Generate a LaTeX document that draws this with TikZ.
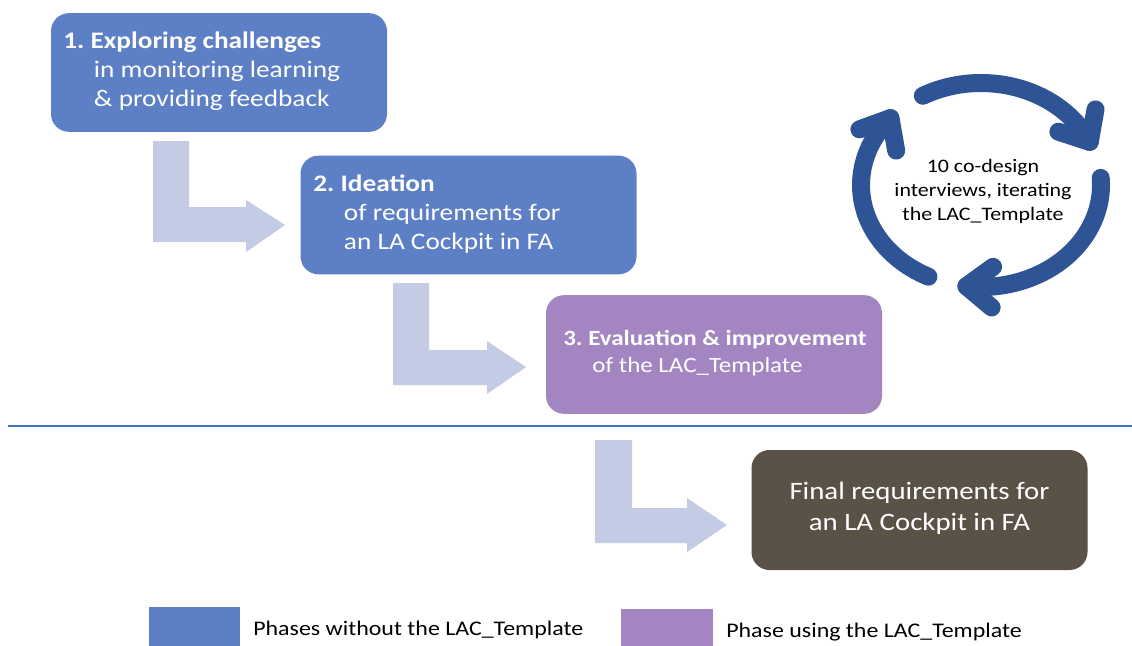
\documentclass[tikz,border=0pt]{standalone}
\usepackage{fontspec}
\setmainfont{Carlito}
\usetikzlibrary{calc}
\definecolor{phaseblue}{RGB}{92,127,198}
\definecolor{phasepurple}{RGB}{163,133,193}
\definecolor{finalbrown}{RGB}{90,81,71}
\definecolor{flowarrow}{RGB}{196,204,229}
\definecolor{cycleblue}{RGB}{47,84,150}
\definecolor{rulecol}{RGB}{68,114,196}
\frenchspacing
\begin{document}
\begin{tikzpicture}[x=0.75pt,y=0.75pt,
  phasebox/.style={rounded corners=13.5pt, inner sep=0pt, minimum width=252pt, minimum height=89pt},
  boxtext/.style={anchor=west, inner sep=0pt, align=left, text=white, xscale=1.15, transform shape,
     font=\fontsize{17.8}{21.75}\selectfont},
  smallboxtext/.style={boxtext, font=\fontsize{16.3}{20.3}\selectfont},
  finaltext/.style={inner sep=0pt, align=center, text=white, xscale=1.15, transform shape,
     font=\fontsize{18.8}{23.25}\selectfont},
  cycletext/.style={inner sep=0pt, align=center, text=black, xscale=1.15, transform shape,
     font=\fontsize{14.3}{18}\selectfont},
  legendtext/.style={anchor=west, inner sep=0pt, text=black, xscale=1.15, transform shape,
     font=\fontsize{15.6}{18}\selectfont},
  flow/.style={fill=flowarrow, draw=none},
  cyc/.style={draw=cycleblue, line width=13.5pt, line cap=round, line join=round}]
\fill[white] (0,0) rectangle (1132,-646);
\useasboundingbox (0,0) rectangle (1132,-646);

% flow arrows
\fill[flow] (153,-141) -- (189,-141) -- (189,-207) -- (246,-207) -- (246,-200) -- (285,-225)
  -- (246,-252) -- (246,-242) -- (153,-242) -- cycle;
\fill[flow] (393,-283) -- (429,-283) -- (429,-350) -- (487,-350) -- (487,-341) -- (526,-367)
  -- (487,-394) -- (487,-385) -- (393,-385) -- cycle;
\fill[flow] (595,-440) -- (632,-440) -- (632,-508) -- (687,-508) -- (687,-498) -- (727,-525)
  -- (687,-552) -- (687,-543) -- (595,-543) -- cycle;

% phase boxes
\node[phasebox, fill=phaseblue] (p1) at (219,-72.5) {};
\node[phasebox, fill=phaseblue] (p2) at (468.5,-215) {};
\node[phasebox, fill=phasepurple] (p3) at (714,-354.5) {};
\node[phasebox, fill=finalbrown, minimum height=90pt] (fin) at (919.5,-510) {};

\node[boxtext] (t1) at (63,-71) {\textbf{1. Exploring challenges}\\\hspace*{20pt}in monitoring learning\\\hspace*{20pt}\& providing feedback};
\node[boxtext] (t2) at (313,-214.5) {\textbf{2. Ideation}\\\hspace*{20pt}of requirements for\\\hspace*{20pt}an LA Cockpit in FA};
\node[smallboxtext] (t3) at (563,-353.5) {\textbf{3. Evaluation \& improvement}\\\hspace*{19pt}of the LAC\_Template};
\node[finaltext] (t4) at (919.5,-508.5) {Final requirements for\\an LA Cockpit in FA};

% cycle
\coordinate (cc) at (981,-185);
\draw[cyc] ([shift={(119:120 and 102)}]cc) arc[start angle=119, end angle=25, x radius=120, y radius=102] coordinate (ta);
\draw[cyc] ($(ta)+(80:33)$) -- (ta) -- ($(ta)+(162:33)$);
\draw[cyc] ([shift={(4:120 and 102)}]cc) arc[start angle=4, end angle=-97, x radius=120, y radius=102] coordinate (tb);
\draw[cyc] ($(tb)+(36:33)$) -- (tb) -- ($(tb)+(-40:33)$);
\draw[cyc] ([shift={(244:120 and 102)}]cc) arc[start angle=244, end angle=139, x radius=120, y radius=102] coordinate (tc);
\draw[cyc] ($(tc)+(200:33)$) -- (tc) -- ($(tc)+(280:33)$);
\node[cycletext] (ct) at (983,-191) {10 co-design\\interviews, iterating\\the LAC\_Template};

% divider
\draw[rulecol, line width=1.5pt] (8,-426) -- (1132,-426);

% legend
\fill[phaseblue] (149,-607) rectangle (240,-646);
\node[legendtext] (l1) at (253,-630) {Phases without the LAC\_Template};
\fill[phasepurple] (621,-609) rectangle (713,-646);
\node[legendtext] (l2) at (726,-632) {Phase using the LAC\_Template};
\end{tikzpicture}
\end{document}
